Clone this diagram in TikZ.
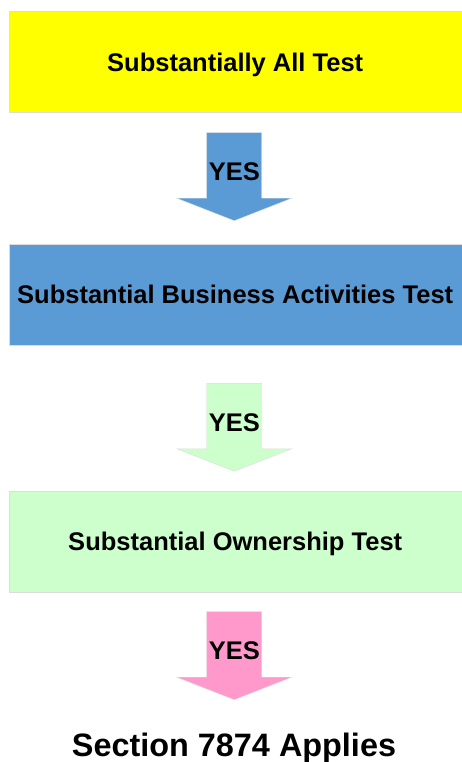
\documentclass[tikz,border=0pt]{standalone}
\usepackage{fontspec}
\setmainfont{Liberation Sans}
\definecolor{testyellow}{HTML}{FFFF00}
\definecolor{testblue}{HTML}{5B9BD5}
\definecolor{testgreen}{HTML}{CCFFCC}
\definecolor{testpink}{HTML}{FF99CC}
\definecolor{edgegray}{HTML}{DDDDDD}
\tikzset{
  testbox/.style={draw=edgegray, minimum width=453pt, minimum height=101pt,
    inner sep=2pt, text height=18.3pt, text depth=0pt,
    font=\fontsize{25.5}{30}\selectfont\bfseries},
  yeslabel/.style={inner sep=0pt, text height=18.3pt, text depth=0pt,
    font=\fontsize{25.5}{30}\selectfont\bfseries},
}
\begin{document}
\begin{tikzpicture}[x=1pt,y=-1pt]
    \useasboundingbox (0,0) rectangle (461,762) ;
    \node [testbox, fill=testyellow] (allt) at (235.2,62.2) {Substantially All Test} ;
    \node [testbox, fill=testblue] (busact) at (235.2,294.5) {Substantial\ Business\ Activities\ Test} ;
    \node [testbox, fill=testgreen] (owner) at (235.2,541.2) {Substantial Ownership Test} ;
    \foreach \t/\c/\n in {132.7/testblue/yesa,383.3/testgreen/yesb,611.7/testpink/yesc} {
      \filldraw [fill=\c, draw=edgegray] (206.7,\t) -- (261.7,\t) -- (261.7,\t+65.5)
        -- (291.7,\t+65.5) -- (234.3,\t+88) -- (176.7,\t+65.5) -- (206.7,\t+65.5) -- cycle ;
      \node [yeslabel] (\n) at (234.3,\t+39) {YES} ;
    }
    \node [inner sep=0pt, text height=23.2pt, text depth=0pt,
      font=\fontsize{32.4}{38}\selectfont\bfseries] (applies) at (234,745) {Section 7874 Applies} ;
  \end{tikzpicture}
\end{document}
